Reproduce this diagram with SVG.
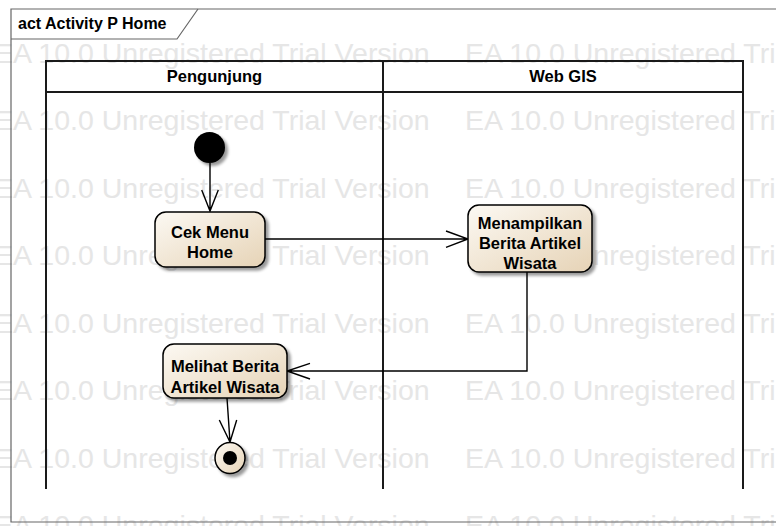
<svg xmlns="http://www.w3.org/2000/svg" width="776" height="526" viewBox="0 0 776 526">
<style>
.wm{font-family:"Liberation Sans",Arial,sans-serif;font-size:28.5px;fill:#e6e6e6}
.lbl{font-family:"Liberation Sans",Arial,sans-serif;font-size:16.5px;font-weight:bold;fill:#000;text-anchor:middle}
.ttl{font-family:"Liberation Sans",Arial,sans-serif;font-size:16px;font-weight:bold;fill:#000}
.lane{stroke:#1a1a1a;stroke-width:2;fill:none}
.frame{stroke:#666;stroke-width:1.2;fill:none}
.act{fill:url(#g);stroke:#000;stroke-width:1.5;filter:url(#sh)}
.edge{stroke:#000;stroke-width:1.4;fill:none}
</style>
<defs>
<linearGradient id="g" x1="0" y1="0" x2="1" y2="1">
<stop offset="0" stop-color="#fcf9f3"/>
<stop offset="1" stop-color="#e6d3b6"/>
</linearGradient>
<filter id="sh" x="-20%" y="-20%" width="150%" height="150%">
<feGaussianBlur in="SourceAlpha" stdDeviation="1.5"/>
<feOffset dx="3" dy="3" result="b"/>
<feComponentTransfer><feFuncA type="linear" slope="0.4"/></feComponentTransfer>
<feMerge><feMergeNode/><feMergeNode in="SourceGraphic"/></feMerge>
</filter>
</defs>
<rect width="776" height="526" fill="#fff"/>
<g id="watermark">
<text class="wm" x="-6" y="62.5">EA 10.0 Unregistered Trial Version</text><text class="wm" x="465" y="62.5">EA 10.0 Unregistered Trial Version</text>
<text class="wm" x="-6" y="130">EA 10.0 Unregistered Trial Version</text><text class="wm" x="465" y="130">EA 10.0 Unregistered Trial Version</text>
<text class="wm" x="-6" y="197.5">EA 10.0 Unregistered Trial Version</text><text class="wm" x="465" y="197.5">EA 10.0 Unregistered Trial Version</text>
<text class="wm" x="-6" y="265">EA 10.0 Unregistered Trial Version</text><text class="wm" x="465" y="265">EA 10.0 Unregistered Trial Version</text>
<text class="wm" x="-6" y="332.5">EA 10.0 Unregistered Trial Version</text><text class="wm" x="465" y="332.5">EA 10.0 Unregistered Trial Version</text>
<text class="wm" x="-6" y="400">EA 10.0 Unregistered Trial Version</text><text class="wm" x="465" y="400">EA 10.0 Unregistered Trial Version</text>
<text class="wm" x="-6" y="467.5">EA 10.0 Unregistered Trial Version</text><text class="wm" x="465" y="467.5">EA 10.0 Unregistered Trial Version</text>
<text class="wm" x="-6" y="535">EA 10.0 Unregistered Trial Version</text><text class="wm" x="465" y="535">EA 10.0 Unregistered Trial Version</text>
</g>
<g id="frame">
<path class="frame" d="M780,9 H11 V522 H780"/>
<path class="frame" d="M11,39 H177 L198,9"/>
<text class="ttl" x="18" y="29">act Activity P Home</text>
</g>
<g id="lanes">
<rect class="lane" x="46" y="61" width="697" height="31"/>
<path class="lane" d="M46,92 V489 M383,61 V489 M743,92 V489"/>
<text class="lbl" x="214.5" y="82">Pengunjung</text>
<text class="lbl" x="563" y="82">Web GIS</text>
</g>
<g id="connectors">
<path class="edge" d="M210,163 V211 M201.7,190 L210,211 L218.3,190"/>
<path class="edge" d="M265,239 H468 M446,231 L468,239 L446,247.3"/>
<path class="edge" d="M527,272 V371 H287 M310,363.3 L287,371 L310,379"/>
<path class="edge" d="M227,398 L230,442 M219.3,420 L230,442 L236.7,420"/>
</g>
<g id="start">
<circle cx="209.5" cy="147.5" r="15.5" fill="#000" filter="url(#sh)"/>
</g>
<g id="cekMenuHome">
<rect class="act" x="155" y="212" width="110" height="55" rx="11"/>
<text class="lbl" x="210" y="238">Cek Menu</text>
<text class="lbl" x="210" y="258">Home</text>
</g>
<g id="menampilkan">
<rect class="act" x="468" y="205" width="124" height="67" rx="11"/>
<text class="lbl" x="530" y="229">Menampilkan</text>
<text class="lbl" x="530" y="249">Berita Artikel</text>
<text class="lbl" x="530" y="269">Wisata</text>
</g>
<g id="melihat">
<rect class="act" x="163" y="344" width="124" height="54" rx="11"/>
<text class="lbl" x="225" y="372">Melihat Berita</text>
<text class="lbl" x="225" y="393">Artikel Wisata</text>
</g>
<g id="end">
<ellipse class="act" cx="230" cy="458" rx="15" ry="15.5"/>
<circle cx="230" cy="458" r="7" fill="#000"/>
</g>
</svg>
